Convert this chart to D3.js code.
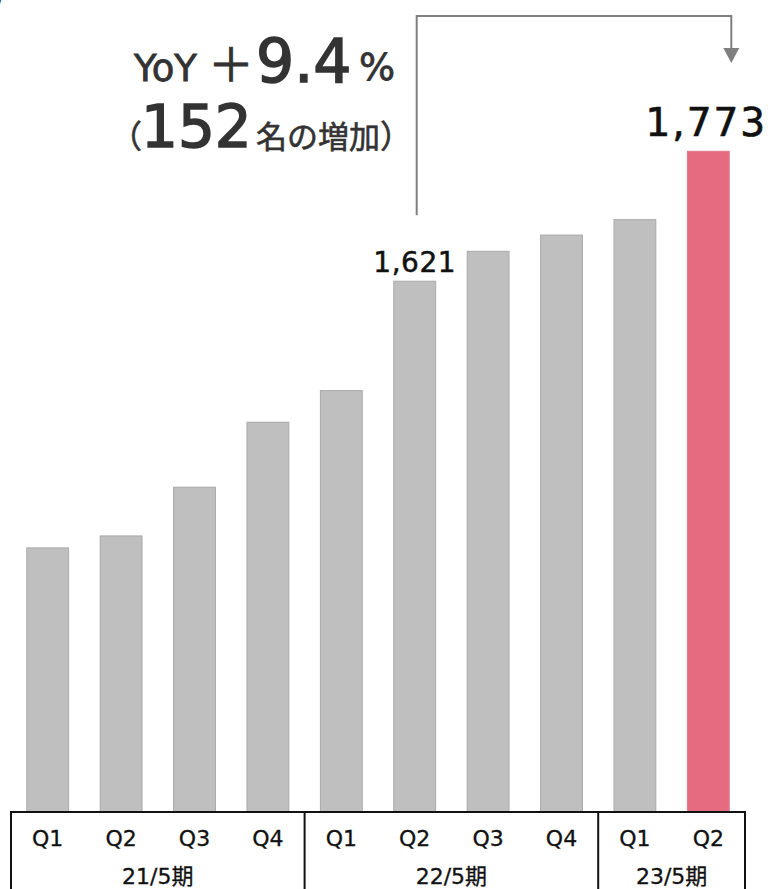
<!DOCTYPE html>
<html><head><meta charset="utf-8">
<script src="https://cdn.jsdelivr.net/npm/d3@7"></script>
<style>html,body{margin:0;padding:0;background:#fff;overflow:hidden}svg{display:block}</style>
</head><body>
<svg id="chart" width="771" height="889"></svg>
<script>
const quarters = ["Q1","Q2","Q3","Q4","Q1","Q2","Q3","Q4","Q1","Q2"];
const fiscalYears = ["21/5期","21/5期","21/5期","21/5期","22/5期","22/5期","22/5期","22/5期","23/5期","23/5期"];
const values = [1309, 1323, 1380, 1456, 1493, 1621, 1656, 1675, 1693, 1773];
const yoyText = "YoY";
const yoyPct = "9.4";
const increase = "152";

const font = "'DejaVu Sans','Noto Sans CJK JP',sans-serif";
const svg = d3.select("#chart");
const idx = d3.range(values.length);
const x = d3.scaleBand().domain(idx).range([11, 745]).paddingInner(0.43).paddingOuter(0.215);
const y = d3.scaleLinear().domain([1000, 1773]).range([812, 151.3]);
const base = y(1000);

// bars
svg.append("g").selectAll("rect").data(idx).join("rect")
  .attr("x", i => x(i)).attr("width", x.bandwidth())
  .attr("y", i => y(values[i])).attr("height", i => base - y(values[i]))
  .attr("fill", i => i === values.length - 1 ? "#e66a80" : "#bfbfbf")
  .attr("stroke", i => i === values.length - 1 ? "#e0798b" : "#a9a9a9")
  .attr("stroke-width", 1);

// value labels
const cx = i => x(i) + x.bandwidth() / 2;
svg.append("text").attr("x", cx(5)).attr("y", y(values[5]) - 9)
  .attr("text-anchor", "middle").attr("font-family", font).attr("font-size", 28)
  .attr("fill", "#111").attr("stroke", "#111").attr("stroke-width", 0.5)
  .attr("letter-spacing", 0.5).text(d3.format(",")(values[5]));
svg.append("text").attr("x", cx(9) - 2).attr("y", y(values[9]) - 15)
  .attr("text-anchor", "middle").attr("font-family", font).attr("font-size", 39)
  .attr("fill", "#111").attr("stroke", "#111").attr("stroke-width", 0.7)
  .attr("letter-spacing", 2).text(d3.format(",")(values[9]));

// table / axis
const step = x.step();
const left = x.range()[0], right = x.range()[1];
const tg = svg.append("g").attr("stroke", "#111").attr("stroke-width", 2).attr("fill", "none");
tg.append("line").attr("x1", left - 1).attr("x2", right + 1).attr("y1", base).attr("y2", base);
[0, 4, 8, 10].forEach(b => {
  const xx = b === 10 ? right : left + b * step;
  tg.append("line").attr("x1", xx).attr("x2", xx).attr("y1", base).attr("y2", 900);
});
svg.append("g").selectAll("text").data(idx).join("text")
  .attr("x", i => cx(i)).attr("y", 846).attr("text-anchor", "middle")
  .attr("font-family", font).attr("font-size", 22).attr("fill", "#111")
  .attr("stroke", "#111").attr("stroke-width", 0.3)
  .text(i => quarters[i]);
const groups = d3.groups(idx, i => fiscalYears[i]);
svg.append("g").selectAll("text").data(groups).join("text")
  .attr("x", g => { const a = g[1][0], b = g[1][g[1].length - 1];
    const l = left + a * step; const r = b === values.length - 1 ? right : left + (b + 1) * step; return (l + r) / 2; })
  .attr("y", 884).attr("text-anchor", "middle")
  .attr("font-family", font).attr("font-size", 22).attr("fill", "#111")
  .attr("stroke", "#111").attr("stroke-width", 0.3)
  .text(g => g[0]);

// connector arrow
const ax1 = cx(5) + 2, ax2 = cx(9) + 23, topY = 16;
svg.append("path")
  .attr("d", `M${ax1},${y(values[5]) - 66}V${topY}H${ax2}V50`)
  .attr("fill", "none").attr("stroke", "#7f7f7f").attr("stroke-width", 2);
svg.append("path")
  .attr("d", `M${ax2 - 8},48L${ax2 + 8},48L${ax2},63Z`).attr("fill", "#7f7f7f");

// annotation
const ann = svg.append("g").attr("font-family", font).attr("fill", "#333")
  .attr("stroke", "#333");
ann.append("text").attr("x", 134).attr("y", 81).attr("font-size", 37).attr("stroke-width", 0.8).text(yoyText);
ann.append("text").attr("x", 231).attr("y", 81).attr("text-anchor", "middle").attr("font-size", 46).attr("stroke-width", 0.8).text("＋");
ann.append("text").attr("x", 256).attr("y", 82).attr("font-size", 60).attr("stroke-width", 1.6).text(yoyPct);
ann.append("text").attr("x", 395).attr("y", 80).attr("text-anchor", "end").attr("font-size", 38).attr("stroke-width", 0.8).text("%");
ann.append("text").attr("x", 142).attr("y", 148).attr("text-anchor", "end").attr("font-size", 32).attr("stroke-width", 0.6).text("（");
ann.append("text").attr("x", 141).attr("y", 147).attr("font-size", 58).attr("stroke-width", 1.6).text(increase);
ann.append("text").attr("x", 256).attr("y", 148).attr("font-size", 31).attr("stroke-width", 0.6).text("名の増加");
ann.append("text").attr("x", 380).attr("y", 148).attr("font-size", 32).attr("stroke-width", 0.6).text("）");

// cut-off unit label at top-left
svg.append("text").attr("x", -8).attr("y", 8).attr("font-family", font).attr("font-size", 30)
  .attr("fill", "#333").text("）");
</script>
</body></html>
